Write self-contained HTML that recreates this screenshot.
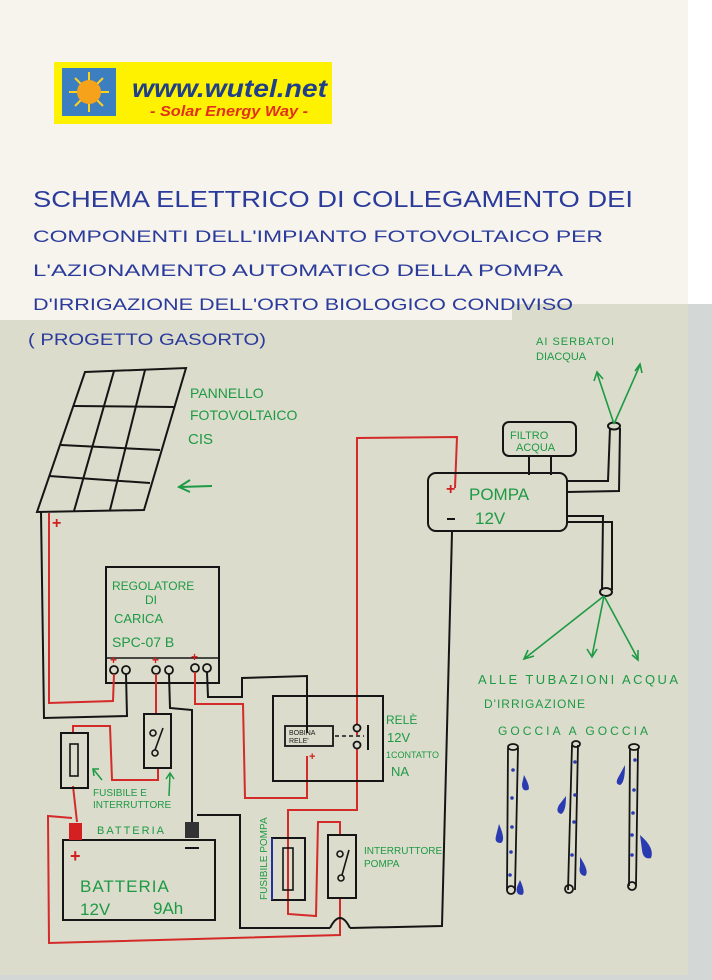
<!DOCTYPE html>
<html><head><meta charset="utf-8"><style>
html,body{margin:0;padding:0;width:712px;height:980px;overflow:hidden;background:#f6f4ec}
svg{display:block}
.t{font-family:"Liberation Sans",sans-serif;fill:#2b3b9c}
.g{font-family:"Liberation Sans",sans-serif;fill:#1e9a45}
</style></head><body>
<svg width="712" height="980" viewBox="0 0 712 980" xmlns="http://www.w3.org/2000/svg">
<rect x="0" y="0" width="712" height="980" fill="#f6f4ec"/>
<rect x="688" y="0" width="24" height="304" fill="#ffffff"/>
<polygon points="0,320 512,320 512,304 688,304 688,975 0,975" fill="#dbdccb"/>
<rect x="688" y="304" width="24" height="676" fill="#d3d7d5"/>
<rect x="0" y="975" width="712" height="5" fill="#d3d7d5"/>

<!-- logo -->
<rect x="54" y="62" width="278" height="62" fill="#fff200"/>
<rect x="62" y="68" width="54" height="48" fill="#3b7fc0"/>
<g stroke="#ffd21a" stroke-width="2">
<line x1="89" y1="72" x2="89" y2="112"/><line x1="69" y1="92" x2="109" y2="92"/>
<line x1="75" y1="78" x2="103" y2="106"/><line x1="103" y1="78" x2="75" y2="106"/>
</g>
<circle cx="89" cy="92" r="12" fill="#f7a21b"/>
<text x="132" y="97" font-family="Liberation Sans" font-weight="bold" font-style="italic" font-size="25" fill="#1f3f8a" textLength="195" lengthAdjust="spacingAndGlyphs">www.wutel.net</text>
<text x="150" y="116" font-family="Liberation Sans" font-weight="bold" font-style="italic" font-size="15" fill="#e0301e" textLength="158" lengthAdjust="spacingAndGlyphs">- Solar Energy Way -</text>

<!-- title -->
<text class="t" x="33" y="207" font-size="23" textLength="600" lengthAdjust="spacingAndGlyphs">SCHEMA ELETTRICO DI COLLEGAMENTO DEI</text>
<text class="t" x="33" y="242" font-size="17" textLength="570" lengthAdjust="spacingAndGlyphs">COMPONENTI DELL'IMPIANTO FOTOVOLTAICO PER</text>
<text class="t" x="33" y="276" font-size="17" textLength="530" lengthAdjust="spacingAndGlyphs">L'AZIONAMENTO AUTOMATICO DELLA POMPA</text>
<text class="t" x="33" y="310" font-size="17" textLength="540" lengthAdjust="spacingAndGlyphs">D'IRRIGAZIONE DELL'ORTO BIOLOGICO CONDIVISO</text>
<text class="t" x="28" y="345" font-size="17" textLength="238" lengthAdjust="spacingAndGlyphs">( PROGETTO  GASORTO)</text>

<!-- panel -->
<g stroke="#151515" stroke-width="2" fill="none">
<polygon points="85,372 186,368 144,510 37,512"/>
<line x1="74" y1="406" x2="175" y2="407"/>
<line x1="61" y1="445" x2="160" y2="450"/>
<line x1="49" y1="476" x2="150" y2="483"/>
<line x1="114" y1="371" x2="74" y2="511"/>
<line x1="145" y1="370" x2="110" y2="510"/>
</g>
<text class="g" x="190" y="398" font-size="14">PANNELLO</text>
<text class="g" x="190" y="420" font-size="14">FOTOVOLTAICO</text>
<text class="g" x="188" y="444" font-size="15">CIS</text>
<g stroke="#1e9a45" stroke-width="2" fill="none"><line x1="212" y1="486" x2="180" y2="487"/><polyline points="190,480 179,487 190,492"/></g>

<!-- regulator -->
<rect x="106" y="567" width="113" height="116" fill="none" stroke="#151515" stroke-width="2"/>
<line x1="106" y1="658" x2="219" y2="658" stroke="#151515" stroke-width="1.5"/>
<text class="g" x="112" y="590" font-size="12">REGOLATORE</text>
<text class="g" x="145" y="604" font-size="12">DI</text>
<text class="g" x="114" y="623" font-size="13">CARICA</text>
<text class="g" x="112" y="647" font-size="14">SPC-07 B</text>
<g stroke="#151515" stroke-width="1.8" fill="none">
<circle cx="114" cy="670" r="4"/><circle cx="126" cy="670" r="4"/>
<circle cx="156" cy="670" r="4"/><circle cx="169" cy="670" r="4"/>
<circle cx="195" cy="668" r="4"/><circle cx="207" cy="668" r="4"/>
</g>
<g fill="#d02020" font-family="Liberation Sans" font-size="12" font-weight="bold"><text x="110" y="664">+</text><text x="152" y="664">+</text><text x="191" y="661">+</text></g>

<!-- red wires -->
<g stroke="#d42a2a" stroke-width="2" fill="none">
<polyline points="49,513 49,703 113,701 114,674"/>
<polyline points="156,674 156,714"/>
<polyline points="77,822 73,786"/>
<polyline points="73,733 73,726 110,726 112,780 158,780 158,768"/>
<polyline points="195,672 195,704 243,704 245,798 307,798 307,756"/>
<polyline points="357,735 357,438 457,437 455,488"/>
<polyline points="357,745 357,810 288,810 288,914 316,916 318,822 340,822 340,835"/>
<polyline points="340,898 340,935 49,943 48,816 72,818"/>
</g>
<text x="52" y="528" fill="#d02020" font-family="Liberation Sans" font-size="16" font-weight="bold">+</text>

<!-- black wires -->
<g stroke="#151515" stroke-width="2" fill="none">
<polyline points="41,512 44,718 127,716 126,674"/>
<polyline points="169,674 170,708 192,710 192,822"/>
<polyline points="207,672 208,697 242,697 242,678 307,676 307,733"/>
<polyline points="197,815 240,815 240,928 330,928"/>
<path d="M330,928 Q340,908 350,928"/>
<polyline points="350,928 442,926 452,532"/>
</g>

<!-- switch 1 -->
<rect x="144" y="714" width="27" height="54" fill="none" stroke="#151515" stroke-width="2"/>
<g stroke="#151515" stroke-width="1.6" fill="none"><circle cx="153" cy="733" r="3"/><circle cx="155" cy="753" r="3"/><line x1="155" y1="750" x2="163" y2="728"/></g>
<!-- fuse 1 -->
<rect x="61" y="733" width="27" height="55" fill="none" stroke="#151515" stroke-width="2"/>
<rect x="70" y="744" width="8" height="32" fill="none" stroke="#151515" stroke-width="1.6"/>
<text class="g" x="93" y="796" font-size="10">FUSIBILE E</text>
<text class="g" x="93" y="808" font-size="10">INTERRUTTORE</text>
<g stroke="#1e9a45" stroke-width="1.5" fill="none"><line x1="102" y1="780" x2="94" y2="770"/><polyline points="94,776 93,769 99,769"/><line x1="169" y1="796" x2="170" y2="774"/><polyline points="166,779 170,773 174,779"/></g>

<!-- relay -->
<rect x="273" y="696" width="110" height="85" fill="none" stroke="#151515" stroke-width="2"/>
<rect x="285" y="726" width="48" height="20" fill="none" stroke="#151515" stroke-width="1.8"/>
<text x="289" y="735" font-family="Liberation Sans" font-size="7" fill="#222">BOBINA</text>
<text x="289" y="743" font-family="Liberation Sans" font-size="7" fill="#222">RELE'</text>
<text x="309" y="760" fill="#d02020" font-family="Liberation Sans" font-size="11" font-weight="bold">+</text>
<line x1="335" y1="736" x2="364" y2="736" stroke="#151515" stroke-width="1.5" stroke-dasharray="4,3"/>
<g stroke="#151515" stroke-width="1.8" fill="#dcdccd"><circle cx="357" cy="728" r="3.5"/><circle cx="357" cy="745" r="3.5"/></g>
<line x1="368" y1="725" x2="368" y2="750" stroke="#151515" stroke-width="2"/>
<text class="g" x="386" y="724" font-size="12">RELÈ</text>
<text class="g" x="387" y="742" font-size="13">12V</text>
<text class="g" x="386" y="758" font-size="9">1CONTATTO</text>
<text class="g" x="391" y="776" font-size="13">NA</text>

<!-- battery -->
<rect x="63" y="840" width="152" height="80" fill="none" stroke="#151515" stroke-width="2"/>
<rect x="69" y="823" width="13" height="17" fill="#d42020"/>
<rect x="185" y="822" width="14" height="16" fill="#333"/>
<text class="g" x="97" y="834" font-size="11" letter-spacing="2">BATTERIA</text>
<text x="70" y="862" fill="#d02020" font-family="Liberation Sans" font-size="18" font-weight="bold">+</text>
<line x1="185" y1="848" x2="199" y2="848" stroke="#151515" stroke-width="2"/>
<text class="g" x="80" y="892" font-size="17" letter-spacing="1">BATTERIA</text>
<text class="g" x="80" y="915" font-size="17">12V</text>
<text class="g" x="153" y="914" font-size="17">9Ah</text>

<!-- fuse pompa -->
<rect x="272" y="838" width="33" height="62" fill="none" stroke="#151515" stroke-width="2"/>
<line x1="272" y1="838" x2="272" y2="900" stroke="#2030a0" stroke-width="2"/>
<rect x="283" y="848" width="10" height="42" fill="none" stroke="#151515" stroke-width="1.6"/>
<text class="g" font-size="10" transform="translate(267,900) rotate(-90)">FUSIBILE POMPA</text>
<!-- pump switch -->
<rect x="328" y="835" width="28" height="63" fill="none" stroke="#151515" stroke-width="2"/>
<g stroke="#151515" stroke-width="1.6" fill="none"><circle cx="340" cy="854" r="3"/><circle cx="341" cy="878" r="3"/><line x1="342" y1="875" x2="349" y2="850"/></g>
<text class="g" x="364" y="854" font-size="10">INTERRUTTORE</text>
<text class="g" x="364" y="867" font-size="10">POMPA</text>

<!-- pump -->
<g stroke="#151515" stroke-width="2" fill="none">
<rect x="428" y="473" width="139" height="58" rx="8"/>
<rect x="503" y="422" width="73" height="34" rx="6"/>
<line x1="529" y1="456" x2="529" y2="475"/><line x1="551" y1="456" x2="551" y2="475"/>
<polyline points="567,481 608,481 610,428"/><polyline points="567,492 619,491 620,428"/>
<ellipse cx="614" cy="426" rx="6" ry="3.5"/>
<polyline points="567,516 603,516 602,590"/><polyline points="567,522 612,522 612,590"/>
<ellipse cx="606" cy="592" rx="6" ry="4"/>
</g>
<text x="446" y="494" fill="#d02020" font-family="Liberation Sans" font-size="16" font-weight="bold">+</text>
<line x1="447" y1="519" x2="455" y2="519" stroke="#151515" stroke-width="2"/>
<text class="g" x="469" y="500" font-size="17">POMPA</text>
<text class="g" x="475" y="524" font-size="17">12V</text>
<text class="g" x="510" y="439" font-size="11">FILTRO</text>
<text class="g" x="516" y="451" font-size="11">ACQUA</text>
<g stroke="#1e9a45" stroke-width="1.6" fill="none">
<line x1="614" y1="424" x2="597" y2="373"/><polyline points="594,381 597,372 603,379"/>
<line x1="614" y1="424" x2="640" y2="365"/><polyline points="635,371 640,364 642,373"/>
<line x1="604" y1="596" x2="524" y2="659"/><polyline points="528,650 524,659 534,656"/>
<line x1="604" y1="596" x2="592" y2="656"/><polyline points="587,649 592,657 597,649"/>
<line x1="604" y1="596" x2="638" y2="659"/><polyline points="632,655 638,660 638,650"/>
</g>
<text class="g" x="536" y="345" font-size="11" letter-spacing="1">AI SERBATOI</text>
<text class="g" x="536" y="360" font-size="11">DIACQUA</text>
<text class="g" x="478" y="684" font-size="13" textLength="200">ALLE TUBAZIONI ACQUA</text>
<text class="g" x="484" y="708" font-size="12" letter-spacing="1">D'IRRIGAZIONE</text>
<text class="g" x="498" y="735" font-size="12" textLength="150">GOCCIA A GOCCIA</text>

<!-- drip tubes -->
<g stroke="#151515" stroke-width="1.8" fill="none">
<line x1="508" y1="748" x2="507" y2="890"/><line x1="518" y1="748" x2="515" y2="890"/>
<ellipse cx="513" cy="747" rx="5" ry="3"/><circle cx="511" cy="890" r="4"/>
<line x1="572" y1="745" x2="568" y2="890"/><line x1="578" y1="745" x2="575" y2="890"/>
<ellipse cx="576" cy="744" rx="4" ry="3"/><circle cx="569" cy="889" r="4"/>
<line x1="630" y1="748" x2="629" y2="886"/><line x1="638" y1="748" x2="636" y2="886"/>
<ellipse cx="634" cy="747" rx="5" ry="3"/><circle cx="632" cy="886" r="4"/>
</g>
<g fill="#2a3ab0">
<circle cx="513" cy="770" r="1.8"/><circle cx="512" cy="798" r="1.8"/><circle cx="512" cy="827" r="1.8"/><circle cx="511" cy="852" r="1.8"/><circle cx="510" cy="875" r="1.8"/>
<circle cx="575" cy="762" r="1.8"/><circle cx="575" cy="795" r="1.8"/><circle cx="574" cy="822" r="1.8"/><circle cx="572" cy="855" r="1.8"/>
<circle cx="635" cy="760" r="1.8"/><circle cx="634" cy="790" r="1.8"/><circle cx="633" cy="813" r="1.8"/><circle cx="632" cy="835" r="1.8"/><circle cx="632" cy="855" r="1.8"/>
<path d="M524,775 Q531,788 528,790 Q522,792 522,784 Z"/>
<path d="M499,824 Q506,840 501,843 Q494,843 496,836 Z"/>
<path d="M520,880 Q526,893 522,895 Q515,895 517,887 Z"/>
<path d="M566,796 Q566,812 561,814 Q555,812 559,805 Z"/>
<path d="M580,857 Q590,872 585,876 Q578,875 580,866 Z"/>
<path d="M625,765 Q625,783 620,785 Q614,784 619,776 Z"/>
<path d="M640,835 Q655,848 651,858 Q643,860 642,850 Z"/>
</g>
</svg>
</body></html>
